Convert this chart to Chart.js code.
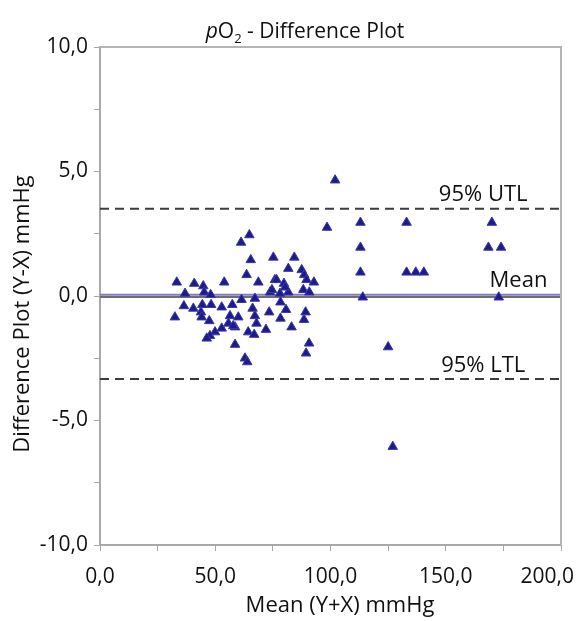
<!DOCTYPE html>
<html>
<head>
<meta charset="utf-8">
<script src="https://cdn.jsdelivr.net/npm/chart.js@4"></script>
<style>
  html, body { margin: 0; padding: 0; background: #fff; }
  #wrap { width: 577px; height: 621px; }
</style>
</head>
<body>
<div id="wrap"><canvas id="chart"></canvas></div>
<script>
// -------------------------
// Data
// -------------------------
const meanX = [
  102, 98.5, 113, 113, 113, 114, 133, 133, 137, 140.5, 170, 168.5, 174, 173, 125, 127, 90.7, 89.4,
  64.8, 61.2, 65.4, 75.2, 84.3, 81.7, 63.6, 87.5, 88.6, 89.6, 92.8, 33.3, 40.9, 44.8, 45.2, 53.9,
  68.7, 75.9, 79.8, 88.2, 90.8, 73.8, 78.1, 81.7, 36.9, 48, 61.4, 67.2, 36.4, 40.5, 44.4, 48.2,
  52.8, 57.4, 66.2, 73.4, 78.3, 80.7, 89.2, 32.5, 43.8, 44.1, 47.4, 56.4, 60, 67.2, 67.9, 78.3,
  88.5, 58.6, 52.8, 49.9, 47.7, 46.3, 64.3, 66.9, 72, 83.1, 58.6, 62.9, 63.9, 74.6, 76.6, 80.3,
  55.7, 57.8
];
const diffY = [
  4.65, 2.75, 2.95, 1.95, 0.95, -0.05, 2.95, 0.95, 0.95, 0.95, 2.95, 1.95, 1.95, -0.05, -2.05, -6.05, -1.9, -2.3,
  2.45, 2.15, 1.45, 1.55, 1.55, 1.1, 0.85, 1.05, 0.85, 0.65, 0.55, 0.55, 0.5, 0.4, 0.15, 0.55,
  0.55, 0.65, 0.5, 0.25, 0.15, 0.15, 0.1, 0.15, 0.1, 0.05, -0.15, -0.1, -0.4, -0.5, -0.35, -0.35,
  -0.45, -0.35, -0.5, -0.65, -0.25, -0.55, -0.65, -0.85, -0.65, -0.85, -1.0, -0.8, -0.85, -0.8, -1.1, -0.9,
  -0.95, -1.25, -1.3, -1.45, -1.6, -1.7, -1.45, -1.55, -1.35, -1.25, -1.95, -2.5, -2.65, 0.25, 0.65, 0.35,
  -1.1, -1.2
];
const meanDiff = 0.05;
const upperLimit = 3.5;
const lowerLimit = -3.33;
const xRange = [0, 200];
const yRange = [-10, 10];
const xLabelTicks = [0, 50, 100, 150, 200];
const yLabelTicks = [-10, -5, 0, 5, 10];

const FONT = "'Open Sans', 'DejaVu Sans', sans-serif";
const fmt = v => v.toFixed(1).replace('.', ',');

// -------------------------
// Helpers
// -------------------------
function hLine(y) { return xRange.map(x => ({ x, y })); }

const decorPlugin = {
  id: 'decor',
  afterDatasetsDraw(chart) {
    const { ctx, chartArea: a, scales: { x, y } } = chart;
    ctx.save();
    // top / right frame
    ctx.strokeStyle = '#b4b4b4';
    ctx.lineWidth = 2;
    ctx.beginPath();
    ctx.moveTo(a.left, a.top); ctx.lineTo(a.right, a.top); ctx.lineTo(a.right, a.bottom);
    ctx.stroke();

    // x tick labels (last one kept inside the canvas, like the original)
    ctx.fillStyle = '#111';
    ctx.font = '21px ' + FONT;
    ctx.textBaseline = 'middle';
    ctx.textAlign = 'left';
    xLabelTicks.forEach(v => {
      const t = fmt(v);
      const tw = ctx.measureText(t).width;
      let lx = x.getPixelForValue(v) - tw / 2;
      lx = Math.min(lx, chart.width - 3 - tw);
      ctx.fillText(t, lx, 577);
    });

    // line labels
    ctx.font = '22px ' + FONT;
    ctx.textBaseline = 'alphabetic';
    ctx.fillText('95% UTL', x.getPixelForValue(147), y.getPixelForValue(upperLimit) - 8);
    ctx.fillText('Mean', x.getPixelForValue(169), y.getPixelForValue(meanDiff) - 8);
    ctx.fillText('95% LTL', x.getPixelForValue(148), y.getPixelForValue(lowerLimit) - 7);

    // title: pO2 - Difference Plot
    const parts = [
      { t: 'p', f: 'italic 21px ' + FONT, dy: 0 },
      { t: 'O', f: '21px ' + FONT, dy: 0 },
      { t: '2', f: '13px ' + FONT, dy: 5 },
      { t: ' - Difference Plot', f: '21px ' + FONT, dy: 0 }
    ];
    let w = 0;
    parts.forEach(p => { ctx.font = p.f; w += ctx.measureText(p.t).width; });
    let cx = 305 - w / 2;
    parts.forEach(p => { ctx.font = p.f; ctx.fillText(p.t, cx, 38 + p.dy); cx += ctx.measureText(p.t).width; });

    // axis titles
    ctx.font = '22px ' + FONT;
    ctx.textAlign = 'center';
    ctx.textBaseline = 'middle';
    ctx.fillText('Mean (Y+X) mmHg', 340, 606);
    ctx.translate(23, 314);
    ctx.rotate(-Math.PI / 2);
    ctx.fillText('Difference Plot (Y-X) mmHg', 0, 0);
    ctx.restore();
  }
};

// -------------------------
// Chart
// -------------------------
const points = meanX.map((x, i) => ({ x, y: diffY[i] }));

new Chart(document.getElementById('chart'), {
  type: 'scatter',
  data: {
    datasets: [
      { data: points, pointStyle: 'triangle', pointRadius: 5.5, backgroundColor: '#1d1b8c', borderColor: '#3b39a6', borderWidth: 1, order: 1 },
      { type: 'line', data: hLine(-0.04), borderColor: '#6e6e6e', borderWidth: 2, pointRadius: 0, order: 3 },
      { type: 'line', data: hLine(meanDiff), borderColor: '#7f7cc4', borderWidth: 2, pointRadius: 0, order: 2 },
      { type: 'line', data: hLine(upperLimit), borderColor: '#3c3c3c', borderWidth: 2, borderDash: [9, 6], pointRadius: 0, order: 2 },
      { type: 'line', data: hLine(lowerLimit), borderColor: '#3c3c3c', borderWidth: 2, borderDash: [9, 6], pointRadius: 0, order: 2 }
    ]
  },
  options: {
    responsive: true,
    maintainAspectRatio: false,
    animation: false,
    events: [],
    layout: { padding: { top: 47, right: 16, left: 0, bottom: 0 } },
    plugins: { legend: { display: false }, tooltip: { enabled: false }, title: { display: false } },
    scales: {
      x: {
        type: 'linear', min: xRange[0], max: xRange[1],
        afterFit: s => { s.height = 76; s.paddingLeft = 0; s.paddingRight = 0; },
        ticks: { stepSize: 25, maxRotation: 0, callback: () => '' },
        grid: { drawOnChartArea: false, drawTicks: true, tickLength: 6, tickColor: '#a8a8a8' },
        border: { display: true, color: '#a8a8a8', width: 2 }
      },
      y: {
        type: 'linear', min: yRange[0], max: yRange[1],
        afterFit: s => { s.width = 100; s.paddingTop = 0; s.paddingBottom = 0; },
        ticks: {
          stepSize: 2.5, padding: 6, color: '#111',
          font: { family: FONT, size: 21 },
          callback: v => yLabelTicks.includes(v) ? fmt(v) : ''
        },
        grid: { drawOnChartArea: false, drawTicks: true, tickLength: 6, tickColor: '#a8a8a8' },
        border: { display: true, color: '#a8a8a8', width: 2 }
      }
    }
  },
  plugins: [decorPlugin]
});
</script>
</body>
</html>
